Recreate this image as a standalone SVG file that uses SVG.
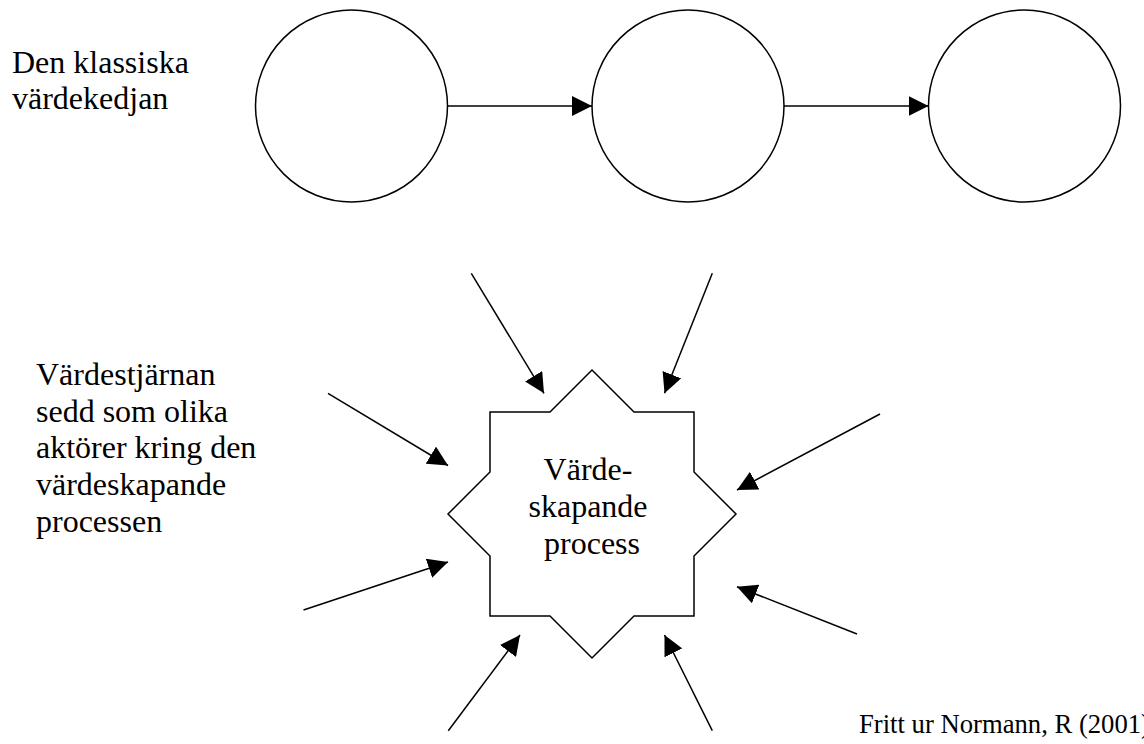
<svg xmlns="http://www.w3.org/2000/svg" width="1144" height="744" viewBox="0 0 1144 744">
  <style>
    .shape { fill: #ffffff; stroke: #000000; stroke-width: 1.5; }
    .conn { fill: none; stroke: #000000; stroke-width: 1.5; marker-end: url(#ah); }
    .lbl { font-family: "Liberation Serif", "Times New Roman", serif; font-size: 32px; fill: #000000; }
    .src { font-family: "Liberation Serif", "Times New Roman", serif; font-size: 26.67px; fill: #000000; }
  </style>
  <defs>
    <marker id="ah" viewBox="0 0 20 20" refX="20" refY="10" markerWidth="20" markerHeight="20" markerUnits="userSpaceOnUse" orient="auto">
      <path d="M0,0 L20,10 L0,20 z" fill="#000000"/>
    </marker>
  </defs>
  <rect x="0" y="0" width="1144" height="744" fill="#ffffff"/>

  <g id="label-chain">
    <text class="lbl" x="12" y="72.7">Den klassiska</text>
    <text class="lbl" x="12" y="109.3">värdekedjan</text>
  </g>

  <g id="node-circle1"><circle class="shape" cx="351.5" cy="106" r="96"/></g>
  <g id="node-circle2"><circle class="shape" cx="688" cy="106" r="96"/></g>
  <g id="node-circle3"><circle class="shape" cx="1024.5" cy="106" r="96"/></g>

  <g id="label-star">
    <text class="lbl" x="36">
      <tspan x="36" y="385">Värdestjärnan</tspan>
      <tspan x="36" y="421.7">sedd som olika</tspan>
      <tspan x="36" y="458.3">aktörer kring den</tspan>
      <tspan x="36" y="495">värdeskapande</tspan>
      <tspan x="36" y="531.7">processen</tspan>
    </text>
  </g>

  <g id="node-star">
    <polygon class="shape" points="490,412 550,412 592,370 634,412 694,412 694,472 736,514 694,556 694,616 634,616 592,658 550,616 490,616 490,556 448,514 490,472"/>
    <text class="lbl" text-anchor="middle">
      <tspan x="592" y="480">Värde-</tspan>
      <tspan x="592" y="517">skapande</tspan>
      <tspan x="592" y="553.5">process</tspan>
    </text>
  </g>

  <g id="connectors">
    <line class="conn" x1="447.5" y1="106" x2="592" y2="106"/>
    <line class="conn" x1="784" y1="106" x2="928.5" y2="106"/>
    <line class="conn" x1="471.3" y1="273.3" x2="544" y2="393.3"/>
    <line class="conn" x1="712.3" y1="273.3" x2="664.5" y2="393.3"/>
    <line class="conn" x1="328" y1="393.3" x2="448" y2="465.5"/>
    <line class="conn" x1="880" y1="414" x2="737" y2="490"/>
    <line class="conn" x1="303.5" y1="610" x2="448" y2="562"/>
    <line class="conn" x1="857" y1="634" x2="737" y2="586.7"/>
    <line class="conn" x1="448.3" y1="730.7" x2="520" y2="635"/>
    <line class="conn" x1="712.3" y1="730.7" x2="664.5" y2="635"/>
  </g>

  <g id="source">
    <text class="src" x="859" y="733">Fritt ur Normann, R (2001)</text>
  </g>
</svg>
